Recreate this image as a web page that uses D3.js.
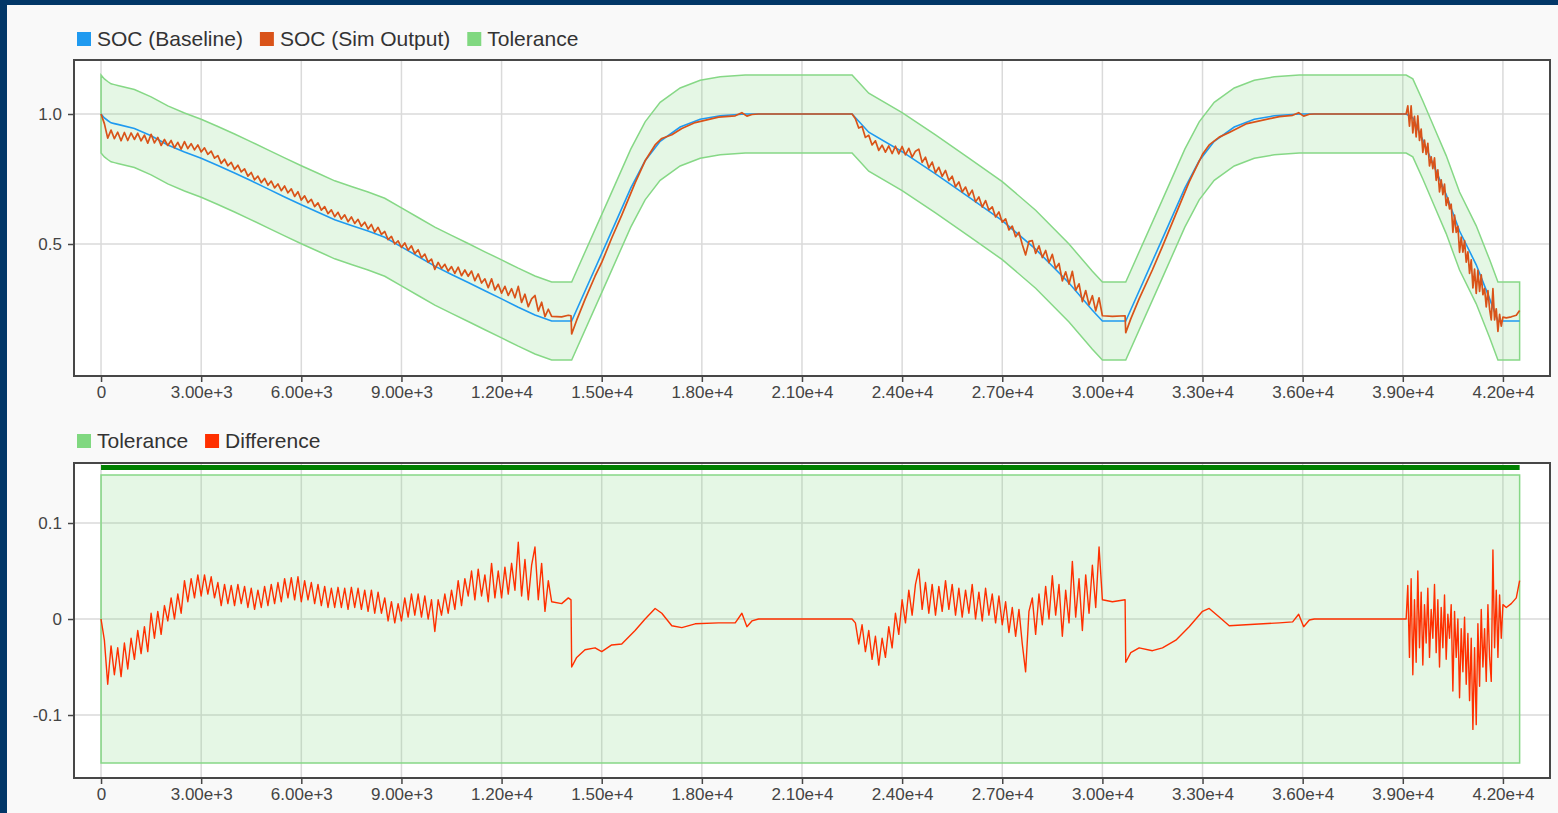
<!DOCTYPE html>
<html><head><meta charset="utf-8">
<script src="https://cdn.jsdelivr.net/npm/d3@7"></script>
<style>
html,body{margin:0;padding:0;background:#f9f9f9;overflow:hidden;}
svg{display:block;font-family:"Liberation Sans",Arial,sans-serif;}
</style></head><body>
<svg id="chart" width="1558" height="813"></svg>
<script>
// ---------------- DATA ----------------
const xTicks = [0,3000,6000,9000,12000,15000,18000,21000,24000,27000,30000,33000,36000,39000,42000];
const socTicks = [0.5, 1.0];
const diffTicks = [-0.1, 0, 0.1];
const xDomain = [-810, 43410];
const socDomain = [-0.0077, 1.2077];
const diffDomain = [-0.1656, 0.1625];
const socTolerance = 0.15;   // absolute tolerance on SOC
const diffTolerance = 0.15;

const socLegend = ["SOC (Baseline)", "SOC (Sim Output)", "Tolerance"];
const diffLegend = ["Tolerance", "Difference"];

// Baseline SOC (time s, value)
const baseTime = [0,100,200,300,400,500,1000,1500,2000,2500,
  3000,3500,4000,4500,5000,5500,6000,6500,7000,7500,
  8000,8500,9000,9500,10000,10500,11000,11500,12000,12500,
  13000,13500,14100,15180,15870,16300,16750,17350,17950,18550,
  19300,22500,22700,23000,24000,25000,26000,27000,28000,29000,
  29700,30000,30700,31780,32470,32900,33350,33950,34550,35150,
  35900,39100,39300,39600,40000,40300,40700,41200,41600,41850,
  42500];
const socBaseline = [1.000,0.985,0.975,0.966,0.963,0.960,0.944,0.916,0.881,0.854,
  0.830,0.802,0.773,0.743,0.712,0.681,0.651,0.622,0.593,0.571,
  0.550,0.526,0.489,0.452,0.415,0.383,0.352,0.320,0.289,0.257,
  0.227,0.204,0.204,0.515,0.715,0.820,0.895,0.950,0.980,0.993,
  1.000,1.000,0.972,0.930,0.855,0.770,0.680,0.590,0.480,0.350,
  0.245,0.204,0.204,0.515,0.715,0.820,0.895,0.950,0.980,0.993,
  1.000,1.000,0.985,0.900,0.780,0.690,0.550,0.420,0.290,0.204,
  0.204];

// Simulation output and difference (time s)
const simTime = [
  0,100,200,300,400,500,600,700,800,900,
  1000,1100,1200,1300,1400,1500,1600,1700,1800,1900,
  2000,2100,2200,2300,2400,2500,2600,2700,2800,2900,
  3000,3100,3200,3300,3400,3500,3600,3700,3800,3900,
  4000,4100,4200,4300,4400,4500,4600,4700,4800,4900,
  5000,5100,5200,5300,5400,5500,5600,5700,5800,5900,
  6000,6100,6200,6300,6400,6500,6600,6700,6800,6900,
  7000,7100,7200,7300,7400,7500,7600,7700,7800,7900,
  8000,8100,8200,8300,8400,8500,8600,8700,8800,8900,
  9000,9100,9200,9300,9400,9500,9600,9700,9800,9900,
  10000,10100,10200,10300,10400,10500,10600,10700,10800,10900,
  11000,11100,11200,11300,11400,11500,11600,11700,11800,11900,
  12000,12100,12200,12300,12400,12500,12600,12700,12800,12900,
  13000,13100,13200,13300,13400,13500,
  13800,14000,14080,14100,14250,14500,14800,15000,15300,15600,
  16000,16300,16600,16800,17100,17400,17800,18500,19000,19200,
  19350,19500,19700,
  22500,22600,22700,22800,22900,23000,23100,23200,23300,23400,
  23500,23600,23700,23800,23900,24000,24100,24200,24300,24400,
  24500,24600,24700,24800,24900,25000,25100,25200,25300,25400,
  25500,25600,25700,25800,25900,26000,26100,26200,26300,26400,
  26500,26600,26700,26800,26900,27000,27100,27200,27300,27400,
  27500,27600,27700,27800,27900,28000,28100,28200,28300,28400,
  28500,28600,28700,28800,28900,29000,29100,29200,29300,29400,
  29500,29600,29700,29800,29900,30000,
  30300,30680,30700,30850,31100,31500,31800,32200,32600,33000,
  33200,33500,33800,34300,35300,35700,35880,36030,36200,36350,
  39100,39150,39200,39250,39300,39350,39400,39450,39500,39550,
  39600,39650,39700,39750,39800,39850,39900,39950,40000,40050,
  40100,40150,40200,40250,40300,40350,40400,40450,40500,40550,
  40600,40650,40700,40750,40800,40850,40900,40950,41000,41050,
  41100,41150,41200,41250,41300,41350,41400,41450,41500,41550,
  41600,41650,41700,41750,41800,41850,41900,41950,42000,
  42100,42250,42400,42500];

const socSim = [
  1.000,0.963,0.907,0.938,0.905,0.930,0.897,0.929,0.898,0.927,
  0.902,0.926,0.897,0.919,0.888,0.922,0.889,0.910,0.879,0.902,
  0.879,0.898,0.870,0.891,0.865,0.894,0.867,0.886,0.862,0.881,
  0.854,0.870,0.845,0.857,0.830,0.840,0.810,0.826,0.801,0.814,
  0.787,0.803,0.777,0.789,0.761,0.775,0.747,0.761,0.736,0.752,
  0.726,0.742,0.716,0.731,0.705,0.723,0.697,0.712,0.683,0.701,
  0.669,0.685,0.659,0.672,0.644,0.658,0.630,0.644,0.617,0.631,
  0.605,0.622,0.596,0.612,0.586,0.604,0.579,0.595,0.568,0.584,
  0.558,0.575,0.546,0.564,0.537,0.548,0.517,0.529,0.500,0.512,
  0.487,0.504,0.476,0.493,0.463,0.478,0.447,0.461,0.430,0.442,
  0.402,0.429,0.406,0.422,0.396,0.413,0.387,0.411,0.378,0.400,
  0.376,0.396,0.359,0.385,0.350,0.366,0.332,0.366,0.323,0.345,
  0.311,0.337,0.302,0.328,0.293,0.337,0.275,0.307,0.259,0.289,
  0.302,0.242,0.276,0.221,0.249,0.222,
  0.220,0.226,0.224,0.154,0.207,0.287,0.376,0.429,0.523,0.611,
  0.735,0.820,0.881,0.906,0.920,0.944,0.967,0.988,0.993,1.005,
  0.992,0.998,1.000,
  1.000,0.982,0.946,0.952,0.910,0.918,0.881,0.897,0.860,0.880,
  0.853,0.877,0.848,0.876,0.847,0.875,0.843,0.868,0.834,0.857,
  0.865,0.814,0.834,0.793,0.815,0.774,0.795,0.760,0.783,0.744,
  0.761,0.720,0.739,0.700,0.719,0.686,0.707,0.662,0.681,0.642,
  0.667,0.630,0.643,0.604,0.623,0.584,0.597,0.554,0.569,0.528,
  0.545,0.498,0.458,0.510,0.513,0.464,0.493,0.448,0.475,0.428,
  0.460,0.406,0.425,0.358,0.393,0.346,0.395,0.322,0.347,0.278,
  0.321,0.266,0.301,0.243,0.293,0.224,
  0.222,0.224,0.159,0.212,0.289,0.401,0.491,0.615,0.739,0.845,
  0.881,0.911,0.929,0.962,0.990,0.995,1.005,0.992,0.999,1.000,
  1.000,1.031,0.953,1.031,0.927,0.991,0.912,0.993,0.898,0.942,
  0.852,0.900,0.845,0.887,0.800,0.835,0.790,0.831,0.745,0.785,
  0.700,0.747,0.690,0.730,0.648,0.678,0.635,0.653,0.545,0.611,
  0.545,0.568,0.468,0.527,0.469,0.513,0.430,0.470,0.387,0.439,
  0.331,0.403,0.310,0.399,0.318,0.381,0.305,0.329,0.258,0.321,
  0.250,0.208,0.328,0.208,0.251,0.164,0.229,0.184,0.219,
  0.216,0.220,0.226,0.244];

const socDiff = [
  0.000,-0.022,-0.068,-0.028,-0.058,-0.030,-0.060,-0.025,-0.052,-0.020,
  -0.042,-0.012,-0.036,-0.008,-0.034,0.006,-0.020,0.008,-0.016,0.014,
  -0.002,0.022,0.000,0.026,0.006,0.040,0.018,0.042,0.022,0.046,
  0.024,0.046,0.026,0.044,0.022,0.038,0.014,0.036,0.016,0.035,
  0.014,0.036,0.016,0.034,0.012,0.032,0.010,0.030,0.012,0.034,
  0.014,0.036,0.016,0.038,0.018,0.042,0.022,0.043,0.020,0.044,
  0.018,0.040,0.020,0.038,0.016,0.036,0.014,0.034,0.012,0.032,
  0.012,0.033,0.012,0.032,0.010,0.033,0.012,0.032,0.010,0.030,
  0.008,0.030,0.006,0.028,0.006,0.022,-0.002,0.018,-0.004,0.016,
  -0.002,0.022,0.002,0.026,0.004,0.026,0.002,0.024,0.000,0.020,
  -0.013,0.020,0.004,0.026,0.006,0.030,0.010,0.040,0.014,0.042,
  0.024,0.050,0.020,0.052,0.024,0.046,0.018,0.058,0.022,0.050,
  0.022,0.054,0.026,0.058,0.030,0.080,0.024,0.062,0.020,0.056,
  0.075,0.020,0.058,0.008,0.040,0.018,
  0.016,0.022,0.020,-0.050,-0.040,-0.032,-0.030,-0.034,-0.027,-0.026,
  -0.012,0.000,0.011,0.006,-0.007,-0.009,-0.005,-0.004,-0.004,0.006,
  -0.008,-0.002,0.000,
  0.000,-0.004,-0.026,-0.006,-0.034,-0.012,-0.042,-0.018,-0.048,-0.020,
  -0.040,-0.008,-0.030,0.006,-0.016,0.020,-0.004,0.030,0.004,0.036,
  0.052,0.010,0.038,0.006,0.036,0.004,0.034,0.008,0.040,0.010,
  0.036,0.004,0.032,0.002,0.030,0.006,0.036,0.000,0.028,-0.002,
  0.032,0.004,0.026,-0.004,0.024,-0.006,0.018,-0.014,0.012,-0.018,
  0.010,-0.026,-0.055,0.008,0.022,-0.016,0.026,-0.006,0.034,0.000,
  0.045,0.004,0.036,-0.018,0.030,-0.004,0.060,0.002,0.042,-0.012,
  0.046,0.006,0.056,0.012,0.075,0.020,
  0.018,0.020,-0.045,-0.035,-0.030,-0.033,-0.030,-0.022,-0.008,0.008,
  0.011,0.002,-0.007,-0.006,-0.004,-0.003,0.005,-0.008,-0.001,0.000,
  0.000,0.035,-0.040,0.042,-0.058,0.020,-0.045,0.050,-0.030,0.028,
  -0.048,0.015,-0.025,0.032,-0.040,0.010,-0.020,0.036,-0.035,0.020,
  -0.050,0.012,-0.030,0.025,-0.042,0.005,-0.020,0.015,-0.075,0.008,
  -0.040,0.000,-0.082,-0.010,-0.055,0.002,-0.068,-0.015,-0.085,-0.020,
  -0.115,-0.030,-0.110,-0.005,-0.070,0.010,-0.050,-0.010,-0.065,0.015,
  -0.040,-0.065,0.072,-0.030,0.030,-0.040,0.025,-0.020,0.015,
  0.012,0.016,0.022,0.040];

// ---------------- STYLE ----------------
const C = {
  frame:"#023768", bg:"#f9f9f9", grid:"#dadada", axis:"#474747", text:"#444",
  base:"#1f9af0", sim:"#d95319", tolFill:"#7fd67f", tolStroke:"#86d886",
  diff:"#ff3000", pass:"#008000", legendTol:"#80d880"
};

const W = 1558, H = 813;
const svg = d3.select("#chart");
svg.append("rect").attr("width", W).attr("height", H).attr("fill", C.bg);
svg.append("rect").attr("x",0).attr("y",0).attr("width",W).attr("height",5).attr("fill",C.frame);
svg.append("rect").attr("x",0).attr("y",0).attr("width",7).attr("height",H).attr("fill",C.frame);

const plotL = 74, plotR = 1550;
const x = d3.scaleLinear().domain(xDomain).range([plotL, plotR]);
const xFmt = v => v === 0 ? "0" : d3.format(".2e")(v);

function panel(top, bottom, yDomain, yTicks, yFmt) {
  const y = d3.scaleLinear().domain(yDomain).range([bottom, top]);
  const g = svg.append("g");
  g.append("rect").attr("x", plotL).attr("y", top).attr("width", plotR - plotL)
    .attr("height", bottom - top).attr("fill", "#fff");
  g.append("g").selectAll("line").data(xTicks).join("line")
    .attr("x1", d => x(d)).attr("x2", d => x(d)).attr("y1", top).attr("y2", bottom)
    .attr("stroke", C.grid).attr("stroke-width", 1.5);
  g.append("g").selectAll("line").data(yTicks).join("line")
    .attr("y1", d => y(d)).attr("y2", d => y(d)).attr("x1", plotL).attr("x2", plotR)
    .attr("stroke", C.grid).attr("stroke-width", 1.5);
  const content = g.append("g");
  g.append("rect").attr("x", plotL).attr("y", top).attr("width", plotR - plotL)
    .attr("height", bottom - top).attr("fill", "none").attr("stroke", C.axis).attr("stroke-width", 2);
  const xa = g.append("g").attr("transform", `translate(0,${bottom})`)
    .call(d3.axisBottom(x).tickValues(xTicks).tickFormat(xFmt).tickSize(6).tickPadding(4));
  const ya = g.append("g").attr("transform", `translate(${plotL},0)`)
    .call(d3.axisLeft(y).tickValues(yTicks).tickFormat(yFmt).tickSize(6).tickPadding(6));
  [xa, ya].forEach(a => {
    a.select(".domain").remove();
    a.selectAll(".tick line").attr("stroke", C.axis).attr("stroke-width", 1.5);
    a.selectAll(".tick text").attr("fill", C.text).style("font-size", "17px")
      .style("font-family", '"Liberation Sans", Arial, sans-serif');
  });
  return {y, content};
}

function legend(items, cy) {
  let cx = 77;
  items.forEach(it => {
    svg.append("rect").attr("x", cx).attr("y", cy - 7).attr("width", 14).attr("height", 14).attr("fill", it.color);
    const t = svg.append("text").attr("x", cx + 20).attr("y", cy).attr("dy", "0.35em")
      .attr("fill", "#333").style("font-size", "21px").text(it.label);
    cx += 20 + t.node().getComputedTextLength() + 17;
  });
}

// ---------------- TOP PANEL ----------------
const basePts = baseTime.map((t, i) => ({t, v: socBaseline[i]}));
const simPts = simTime.map((t, i) => ({t, v: socSim[i]}));
const diffPts = simTime.map((t, i) => ({t, v: socDiff[i]}));

const P1 = panel(60, 376, socDomain, socTicks, v => v.toFixed(1));
P1.content.append("path").datum(basePts)
  .attr("d", d3.area().x(d => x(d.t)).y0(d => P1.y(d.v - socTolerance)).y1(d => P1.y(d.v + socTolerance)))
  .attr("fill", C.tolFill).attr("fill-opacity", 0.2)
  .attr("stroke", C.tolStroke).attr("stroke-width", 1.5);
P1.content.append("path").datum(basePts)
  .attr("d", d3.line().x(d => x(d.t)).y(d => P1.y(d.v)))
  .attr("fill", "none").attr("stroke", C.base).attr("stroke-width", 1.6);
P1.content.append("path").datum(simPts)
  .attr("d", d3.line().x(d => x(d.t)).y(d => P1.y(d.v)))
  .attr("fill", "none").attr("stroke", C.sim).attr("stroke-width", 1.7).attr("stroke-linejoin", "round");

// ---------------- BOTTOM PANEL ----------------
const P2 = panel(463, 778, diffDomain, diffTicks, v => String(v));
const span = d3.extent(simTime);
P2.content.append("path").datum(span)
  .attr("d", d3.area().x(d => x(d)).y0(P2.y(-diffTolerance)).y1(P2.y(diffTolerance)))
  .attr("fill", C.tolFill).attr("fill-opacity", 0.2)
  .attr("stroke", C.tolStroke).attr("stroke-width", 1.5);
P2.content.append("rect").attr("x", x(span[0])).attr("y", 465)
  .attr("width", x(span[1]) - x(span[0])).attr("height", 5).attr("fill", C.pass);
P2.content.append("path").datum(diffPts)
  .attr("d", d3.line().x(d => x(d.t)).y(d => P2.y(d.v)))
  .attr("fill", "none").attr("stroke", C.diff).attr("stroke-width", 1.4).attr("stroke-linejoin", "round");

legend([{label: socLegend[0], color: C.base}, {label: socLegend[1], color: C.sim}, {label: socLegend[2], color: C.legendTol}], 39);
legend([{label: diffLegend[0], color: C.legendTol}, {label: diffLegend[1], color: C.diff}], 441);
</script>
</body></html>
